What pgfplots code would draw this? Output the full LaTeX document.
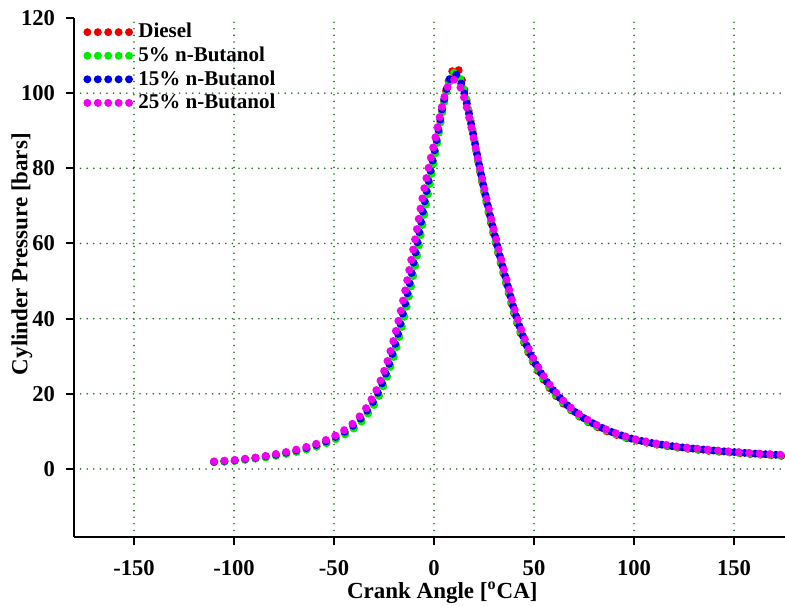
\documentclass[border=0pt]{standalone}
\usepackage{pgfplots}
\pgfplotsset{compat=1.18}
\usepackage{fontspec}
\setmainfont{Liberation Serif}
\definecolor{cred}{RGB}{235,0,0}
\definecolor{cgreen}{RGB}{0,235,0}
\definecolor{cblue}{RGB}{0,0,230}
\definecolor{cmag}{RGB}{240,0,240}
\definecolor{gridg}{RGB}{30,110,30}
\begin{document}
\begin{tikzpicture}
\useasboundingbox (0,0) rectangle (392.5pt,302.5pt);
\begin{axis}[
  at={(37pt,34pt)}, anchor=south west,
  scale only axis, width=355.5pt, height=259.5pt,
  xmin=-180, xmax=175.5, ymin=-18.1, ymax=120,
  axis x line*=bottom, axis y line*=left,
  axis line style={line width=1pt, -},
  tick align=outside, major tick length=4pt,
  tick style={line width=1pt, black},
  xtick={-150,-100,-50,0,50,100,150},
  ytick={0,20,40,60,80,100},
  extra y ticks={120}, extra y tick style={grid=none},
  grid=major,
  major grid style={gridg, line width=0.9pt, dash pattern=on 0pt off 3.3pt, line cap=round},
  /pgf/number format/assume math mode=true,
  ticklabel style={font=\bfseries\fontsize{11.3}{13}\selectfont},
  xticklabel shift=4pt, yticklabel shift=2pt,
  xlabel={\bfseries Crank Angle [\textsuperscript{o}CA]},
  ylabel={\bfseries Cylinder Pressure [bars]},
  label style={font=\bfseries\fontsize{11.5}{13}\selectfont},
  xlabel style={at={(axis description cs:0.518,0)}, anchor=center, yshift=-28pt},
  ylabel style={at={(axis description cs:0,0.545)}, anchor=center, rotate=0, yshift=26pt, xshift=0pt},
  legend style={at={(axis description cs:0,1)}, anchor=north west, xshift=1.5pt, yshift=1.5pt,
     draw=none, fill=none, font=\bfseries\fontsize{10.5}{12}\selectfont,
     row sep=-1pt, cells={anchor=west}},
  legend image code/.code={\draw[#1] (0pt,0pt) -- (21.5pt,0pt);},
  every axis plot/.append style={line width=4pt, line cap=round, dash pattern=on 0pt off 5.2pt, smooth, tension=0.4},
]
\addplot[cred] coordinates {
(-110,1.9) (-105,2.0) (-100,2.2) (-95,2.5) (-90,2.8) (-85,3.1) (-80,3.5) (-75,4.0) (-70,4.5) (-65,5.1) (-60,5.8) (-55,6.7) (-50,7.8) (-45,9.2) (-40,11.0) (-35,13.6) (-30,17.5) (-27,20.5) (-24,24.3) (-21,29) (-18,34.5) (-15,41) (-12,48) (-9,56) (-6,65) (-3,74) (0,82.5) (2,88.5) (4,95) (6,100.5) (8,104.5) (10,106.7) (11,107) (12,106.6) (14,103.5) (16,99) (18,93.5) (20,88) (22,82) (24,76.5) (26,71.5) (28,66.5) (30,62) (33,55.5) (36,49.5) (40,41.5) (44,35) (48,30) (52,26) (56,22.8) (60,20) (65,17.2) (70,15) (75,13.1) (80,11.6) (85,10.3) (90,9.3) (95,8.4) (100,7.7) (110,6.6) (120,5.8) (130,5.2) (140,4.7) (150,4.3) (160,3.9) (170,3.6) (176,3.4)
};
\addlegendentry{Diesel}
\addplot[cgreen] coordinates {
(-110,1.8) (-105,1.9) (-100,2.1) (-95,2.4) (-90,2.7) (-85,3.0) (-80,3.4) (-75,3.9) (-70,4.4) (-65,5.0) (-60,5.7) (-55,6.6) (-50,7.7) (-45,9.0) (-40,10.8) (-35,13.3) (-30,17.0) (-27,20.0) (-24,23.8) (-21,28.3) (-18,33.8) (-15,40.2) (-12,47.2) (-9,55.2) (-6,64.2) (-3,73.3) (0,82) (2,88) (4,94.5) (6,99.8) (8,103.5) (10,105.5) (11,105.6) (12,105.2) (14,102.5) (16,98.5) (18,93.2) (20,87.8) (22,82) (24,76.6) (26,71.6) (28,66.8) (30,62.3) (33,55.8) (36,49.8) (40,41.8) (44,35.3) (48,30.3) (52,26.3) (56,23) (60,20.2) (65,17.4) (70,15.1) (75,13.2) (80,11.7) (85,10.4) (90,9.4) (95,8.5) (100,7.8) (110,6.7) (120,5.9) (130,5.3) (140,4.8) (150,4.4) (160,4.0) (170,3.7) (176,3.5)
};
\addlegendentry{5\% n-Butanol}
\addplot[cblue] coordinates {
(-110,1.9) (-105,2.1) (-100,2.3) (-95,2.6) (-90,2.9) (-85,3.3) (-80,3.7) (-75,4.2) (-70,4.8) (-65,5.4) (-60,6.2) (-55,7.1) (-50,8.3) (-45,9.8) (-40,11.7) (-35,14.4) (-30,18.3) (-27,21.5) (-24,25.5) (-21,30.3) (-18,36) (-15,42.7) (-12,50) (-9,58.3) (-6,67.3) (-3,76) (0,84) (2,89.5) (4,95.5) (6,100.5) (8,104) (9.5,105.3) (11,105) (12,104.5) (14,102) (16,98.2) (18,93.3) (20,88) (22,82.5) (24,77.2) (26,72.2) (28,67.5) (30,63) (33,56.5) (36,50.5) (40,42.5) (44,36) (48,30.8) (52,26.8) (56,23.5) (60,20.7) (65,17.8) (70,15.4) (75,13.5) (80,12) (85,10.7) (90,9.6) (95,8.7) (100,7.9) (110,6.8) (120,6.0) (130,5.4) (140,4.9) (150,4.5) (160,4.1) (170,3.8) (176,3.6)
};
\addlegendentry{15\% n-Butanol}
\addplot[cmag] coordinates {
(-110,2.0) (-105,2.2) (-100,2.4) (-95,2.7) (-90,3.0) (-85,3.4) (-80,3.9) (-75,4.4) (-70,5.0) (-65,5.7) (-60,6.5) (-55,7.5) (-50,8.7) (-45,10.3) (-40,12.4) (-35,15.4) (-30,19.7) (-27,23.2) (-24,27.5) (-21,32.8) (-18,39) (-15,46) (-12,54) (-9,62.5) (-6,71.5) (-3,79.5) (0,86.5) (2,91.5) (4,96.5) (6,100.5) (8,103) (10,103.6) (12,102.8) (14,100.5) (16,97) (18,92.5) (20,87.5) (22,82.5) (24,77.5) (26,72.5) (28,68) (30,63.5) (33,57) (36,51) (40,43) (44,36.5) (48,31.2) (52,27.2) (56,23.8) (60,21) (65,18) (70,15.6) (75,13.7) (80,12.1) (85,10.8) (90,9.7) (95,8.8) (100,8.0) (110,6.9) (120,6.1) (130,5.5) (140,5.0) (150,4.6) (160,4.2) (170,3.9) (176,3.7)
};
\addlegendentry{25\% n-Butanol}
\end{axis}
\end{tikzpicture}
\end{document}
